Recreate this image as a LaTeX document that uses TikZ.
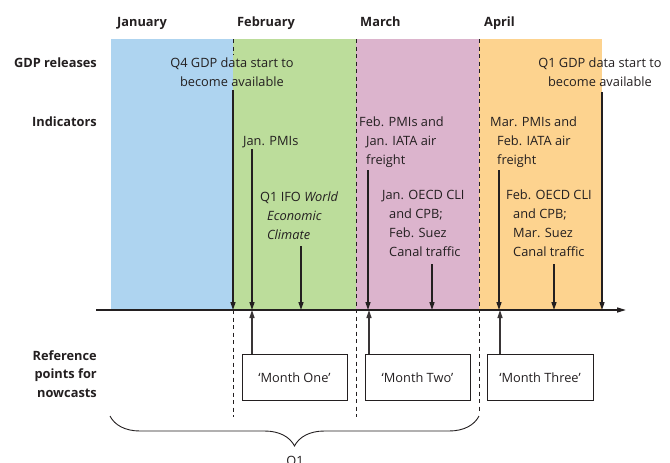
\documentclass[tikz,border=0pt]{standalone}
\usepackage{fontspec}
\setmainfont{Open Sans}
\usetikzlibrary{arrows.meta,decorations.pathreplacing}

\definecolor{ink}{RGB}{35,31,32}
\definecolor{janblue}{RGB}{174,212,240}
\definecolor{febgreen}{RGB}{188,221,155}
\definecolor{marpink}{RGB}{220,180,205}
\definecolor{aprorange}{RGB}{253,211,143}

\newcommand{\hang}{\hspace*{7pt}}
\newcommand{\txt}{\fontsize{12.8}{19}\selectfont}

\tikzset{
  month/.style={font=\txt\bfseries, anchor=base west, text=ink, inner sep=0pt},
  rowlabel/.style={font=\txt\bfseries, align=right, anchor=base east, text=ink, inner sep=0pt},
  note/.style={font=\txt, align=left, anchor=base west, text=ink, inner sep=0pt},
  release/.style={font=\txt, align=center, anchor=base, text=ink, inner sep=0pt},
  down/.style={-{Triangle[length=8pt,width=5pt]}, line width=1.4pt, draw=ink},
  up/.style={-{Triangle[length=8pt,width=5pt]}, line width=1.2pt, draw=ink!90},
  split/.style={draw=ink, line width=0.8pt, dash pattern=on 4pt off 3.5pt},
  monthbox/.style={font=\txt, draw=ink, line width=1pt, minimum width=105pt, minimum height=46pt, inner sep=0pt, text=ink}
}

\begin{document}
\begin{tikzpicture}[x=1pt, y=-1pt]
    \useasboundingbox (0,0) rectangle (670,463);

    % Mesice - barevne pasy
    \fill[janblue]   (111,39) rectangle (233,310);
    \fill[febgreen]  (233,39) rectangle (356,310);
    \fill[marpink]   (356,39) rectangle (479,310);
    \fill[aprorange] (479,39) rectangle (602,310);

    % Hranice mesicu
    \draw[split] (233,39) -- (233,55);
    \draw[split] (233,310) -- (233,417);
    \draw[split] (356,39) -- (356,417);
    \draw[split] (479,39) -- (479,413);

    % Nazvy mesicu
    \node[month] (jan) at (117,27) {January};
    \node[month] (feb) at (237,27) {February};
    \node[month] (mar) at (360,27) {March};
    \node[month] (apr) at (484,27) {April};

    % Radky vlevo (base = posledni radek)
    \node[rowlabel] (gdp) at (97,67) {GDP releases};
    \node[rowlabel] (ind) at (97,126) {Indicators};
    \node[rowlabel, font=\bfseries\fontsize{12.8}{18.5}\selectfont] (ref) at (97,397) {Reference\\points for\\nowcasts};

    % GDP
    \node[release] (q4gdp) at (232,86) {Q4 GDP data start to\\become available};
    \node[release] (q1gdp) at (600,86) {Q1 GDP data start to\\become available};

    % Indikatory
    \node[note] (janpmi) at (243,145) {Jan. PMIs};
    \node[note] (ifo) at (260,239) {Q1 IFO \textit{World}\\\hang\textit{Economic}\\\hang\textit{Climate}};
    \node[note] (febpmi) at (359,164) {Feb. PMIs and\\\hang Jan. IATA air\\\hang freight};
    \node[note] (janoecd) at (382,256) {Jan. OECD CLI\\\hang and CPB;\\\hang Feb. Suez\\\hang Canal traffic};
    \node[note] (marpmi) at (490,164) {Mar. PMIs and\\\hang Feb. IATA air\\\hang freight};
    \node[note] (feboecd) at (506,256) {Feb. OECD CLI\\\hang and CPB;\\\hang Mar. Suez\\\hang Canal traffic};

    % Casova osa
    \coordinate (axl) at (96,310);
    \coordinate (axr) at (626,310);
    \draw[-{Triangle[length=9pt,width=5pt]}, line width=1.5pt, ink] (axl) -- (axr);

    % Sipky dolu na osu
    \foreach \x/\y in {233/90, 252/149, 301/246, 368/170, 432/264, 499/170, 554/264, 602/92} {
        \coordinate (s\x) at (\x,\y);
        \coordinate (t\x) at (\x,310);
        \draw[down] (s\x) -- (t\x);
    }

    % Referencni body
    \node[monthbox] (m1) at (294.5,377.5) {`Month One'};
    \node[monthbox] (m2) at (417.5,377.5) {`Month Two'};
    \node[monthbox, minimum width=106pt] (m3) at (540,377.5) {`Month Three'};
    \coordinate (u1) at (252,310);
    \coordinate (u2) at (369,310);
    \coordinate (u3) at (500,310);
    \draw[up] (m1.north -| u1) -- (u1);
    \draw[up] (m2.north -| u2) -- (u2);
    \draw[up] (m3.north -| u3) -- (u3);

    % Ctvrtleti
    \coordinate (bl) at (110,416);
    \coordinate (br) at (479,416);
    \draw[decorate, decoration={brace, mirror, amplitude=30pt}, line width=0.9pt, ink] (bl) -- (br);
    \node[release] (q1) at (295,465) {Q1};

\end{tikzpicture}
\end{document}
